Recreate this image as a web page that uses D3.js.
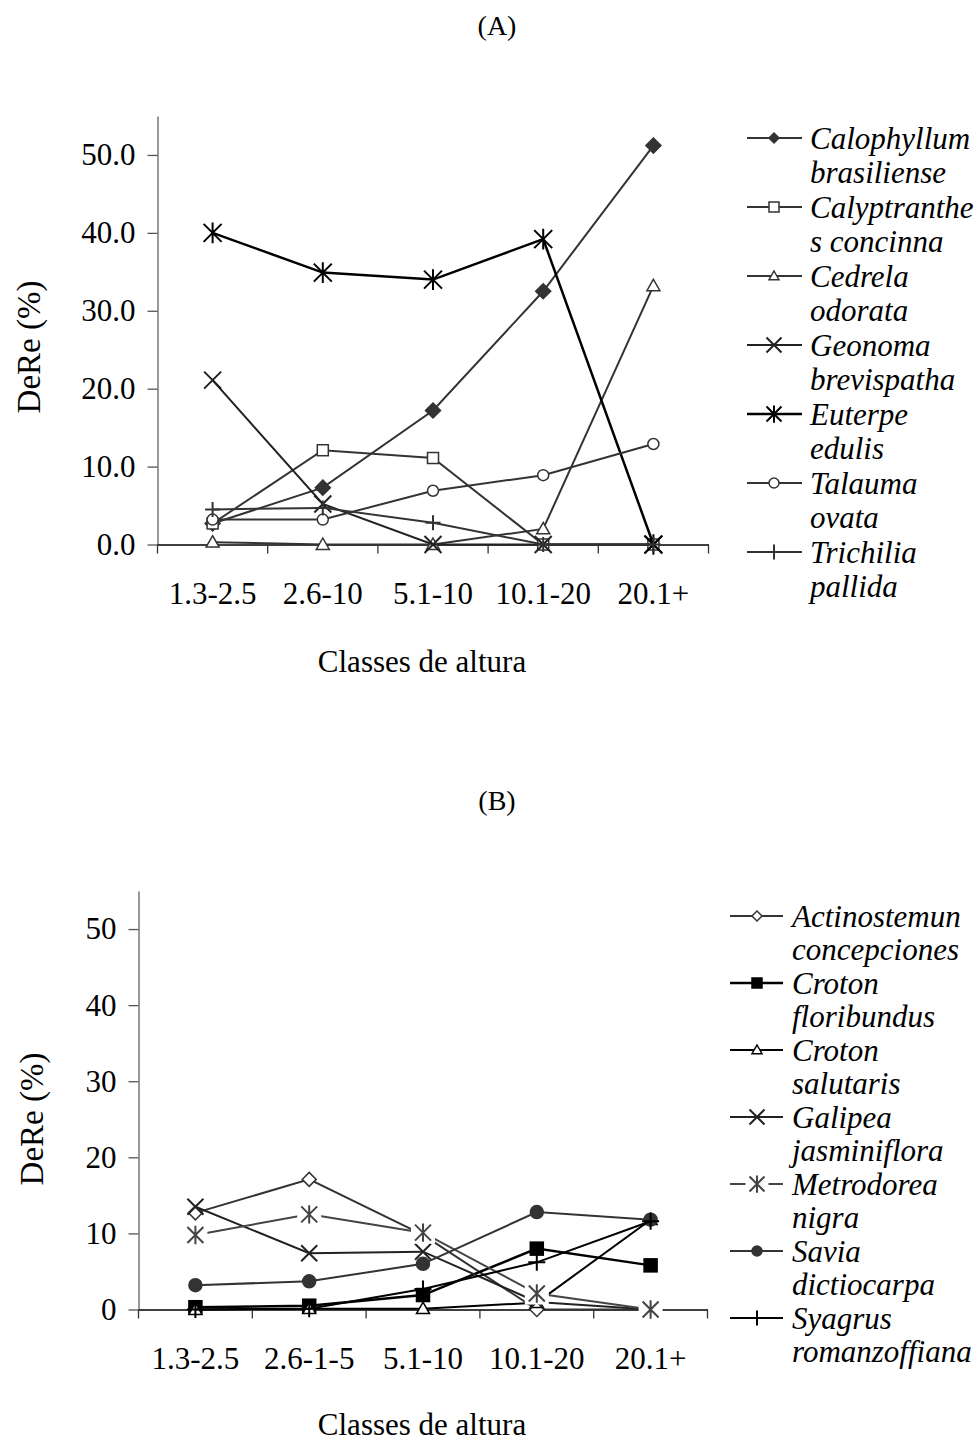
<!DOCTYPE html>
<html>
<head>
<meta charset="utf-8">
<script src="https://cdn.jsdelivr.net/npm/d3@7"></script>
<style>
  body { margin: 0; background: #fff; }
  text { font-family: "Liberation Serif", "Times New Roman", serif; fill: #000; }
</style>
</head>
<body>
<svg id="chart" width="979" height="1446"></svg>
<script>
// panel A
const classesA = ["1.3-2.5", "2.6-10", "5.1-10", "10.1-20", "20.1+"];
const calophyllum = [2.7, 7.3, 17.2, 32.5, 51.2];
const calyptranthes = [2.7, 12.1, 11.1, 0, 0];
const cedrela = [0.3, 0, 0, 2.0, 33.2];
const geonoma = [21.1, 5.2, 0, 0, 0];
const euterpe = [40.0, 34.9, 34.0, 39.2, 0];
const talauma = [3.2, 3.2, 6.9, 8.9, 12.9];
const trichilia = [4.5, 4.7, 2.8, 0, 0];
const yTicksA = [0, 10, 20, 30, 40, 50];

// panel B
const classesB = ["1.3-2.5", "2.6-1-5", "5.1-10", "10.1-20", "20.1+"];
const actinostemun = [12.7, 17.1, 9.8, 0, 0];
const crotonFlori = [0.3, 0.5, 1.9, 8.0, 5.8];
const crotonSalut = [0, 0.1, 0.1, 0.9, 11.8];
const galipea = [13.5, 7.4, 7.6, 1.0, 0];
const metrodorea = [9.8, 12.5, 10.1, 2.1, 0];
const savia = [3.2, 3.7, 6.0, 12.8, 11.8];
const syagrus = [0, 0.1, 2.7, 6.2, 11.6];
const yTicksB = [0, 10, 20, 30, 40, 50];

const seriesA = [
  { name: ["Calophyllum", "brasiliense"], values: calophyllum, marker: "diamond", fill: "#333", color: "#333", width: 2, size: 7.5 },
  { name: ["Calyptranthe", "s concinna"], values: calyptranthes, marker: "square", fill: "#fff", color: "#333", width: 2, size: 5.5 },
  { name: ["Cedrela", "odorata"], values: cedrela, marker: "triangle", fill: "#fff", color: "#333", width: 2, size: 6.5 },
  { name: ["Geonoma", "brevispatha"], values: geonoma, marker: "x", fill: "none", color: "#222", width: 2, size: 8.5 },
  { name: ["Euterpe", "edulis"], values: euterpe, marker: "asterisk", fill: "none", color: "#000", width: 2.5, size: 9 },
  { name: ["Talauma", "ovata"], values: talauma, marker: "circle", fill: "#fff", color: "#333", width: 2, size: 5.5 },
  { name: ["Trichilia", "pallida"], values: trichilia, marker: "plus", fill: "none", color: "#333", width: 2, size: 7.5 }
];

const seriesB = [
  { name: ["Actinostemun", "concepciones"], values: actinostemun, marker: "diamond", fill: "#fff", color: "#333", width: 2, size: 7 },
  { name: ["Croton", "floribundus"], values: crotonFlori, marker: "square", fill: "#000", color: "#000", width: 2.5, size: 6.5 },
  { name: ["Croton", "salutaris"], values: crotonSalut, marker: "triangle", fill: "#fff", color: "#000", width: 2, size: 6.5 },
  { name: ["Galipea", "jasminiflora"], values: galipea, marker: "x", fill: "none", color: "#222", width: 2, size: 8 },
  { name: ["Metrodorea", "nigra"], values: metrodorea, marker: "asterisk", fill: "none", color: "#444", width: 2, size: 8, halo: true },
  { name: ["Savia", "dictiocarpa"], values: savia, marker: "circle", fill: "#333", color: "#333", width: 2, size: 6.5 },
  { name: ["Syagrus", "romanzoffiana"], values: syagrus, marker: "plus", fill: "none", color: "#000", width: 2, size: 8.5 }
];

const svg = d3.select("#chart");

function drawMarker(g, s, x, y) {
  const r = s.size;
  const m = g.append("g").attr("transform", `translate(${x},${y})`);
  if (s.halo) {
    m.append("rect").attr("x", -r - 4).attr("y", -r - 3).attr("width", 2 * r + 8).attr("height", 2 * r + 6).attr("fill", "#fff");
  }
  const stroke = s.color;
  if (s.marker === "diamond") {
    m.append("path").attr("d", `M0,${-r}L${r},0L0,${r}L${-r},0Z`)
      .attr("fill", s.fill).attr("stroke", stroke).attr("stroke-width", 1.5);
  } else if (s.marker === "square") {
    m.append("rect").attr("x", -r).attr("y", -r).attr("width", 2 * r).attr("height", 2 * r)
      .attr("fill", s.fill).attr("stroke", stroke).attr("stroke-width", 1.5);
  } else if (s.marker === "triangle") {
    m.append("path").attr("d", `M0,${-r}L${r},${r * 0.75}L${-r},${r * 0.75}Z`)
      .attr("fill", s.fill).attr("stroke", stroke).attr("stroke-width", 1.5);
  } else if (s.marker === "circle") {
    m.append("circle").attr("r", r)
      .attr("fill", s.fill).attr("stroke", stroke).attr("stroke-width", 1.5);
  } else {
    let d = "";
    if (s.marker === "x" || s.marker === "asterisk") d += `M${-r},${-r}L${r},${r}M${-r},${r}L${r},${-r}`;
    if (s.marker === "asterisk") d += `M0,${-r * 1.15}L0,${r * 1.15}`;
    if (s.marker === "plus") d += `M${-r},0L${r},0M0,${-r}L0,${r}`;
    m.append("path").attr("d", d).attr("fill", "none").attr("stroke", stroke).attr("stroke-width", 2);
  }
}

function panel(opts) {
  const { classes, series, yTicks, fmt, left, right, top, bottom, legend } = opts;
  const x = d3.scaleBand().domain(classes).range([left, right]);
  const y = d3.scaleLinear().domain([0, 55]).range([bottom, top]);
  const g = svg.append("g");

  // y axis
  const yAxis = g.append("g")
    .attr("transform", `translate(${left},0)`)
    .call(d3.axisLeft(y).tickValues(yTicks).tickFormat(fmt).tickSize(10).tickPadding(12).tickSizeOuter(0));
  yAxis.select(".domain").attr("stroke", "#777").attr("stroke-width", 1.5);
  yAxis.selectAll(".tick line").attr("stroke", "#555").attr("stroke-width", 1.3);
  yAxis.selectAll(".tick text").attr("font-size", 31).attr("fill", "#000")
    .style("font-family", '"Liberation Serif", serif');

  // x axis: labels at band centers, ticks at band boundaries
  const xAxis = g.append("g")
    .attr("transform", `translate(0,${bottom})`)
    .call(d3.axisBottom(x).tickSize(0).tickPadding(37).tickSizeOuter(0));
  xAxis.select(".domain").attr("stroke", "#000").attr("stroke-width", 1.6);
  xAxis.selectAll(".tick text").attr("font-size", 31).attr("fill", "#000")
    .style("font-family", '"Liberation Serif", serif');
  const bounds = classes.map(c => x(c)).concat([x(classes[classes.length - 1]) + x.bandwidth()]);
  xAxis.selectAll(".bound").data(bounds).join("line")
    .attr("class", "bound")
    .attr("x1", d => d).attr("x2", d => d)
    .attr("y1", 0).attr("y2", 9)
    .attr("stroke", "#333").attr("stroke-width", 1.3);

  // lines
  const line = d3.line()
    .x((d, i) => x(classes[i]) + x.bandwidth() / 2)
    .y(d => y(d));
  series.forEach(s => {
    g.append("path")
      .datum(s.values)
      .attr("d", line)
      .attr("fill", "none")
      .attr("stroke", s.color)
      .attr("stroke-width", s.width);
    s.values.forEach((v, i) => drawMarker(g, s, x(classes[i]) + x.bandwidth() / 2, y(v)));
  });

  // axis titles
  g.append("text")
    .attr("x", opts.xTitleX).attr("y", opts.xTitleY)
    .attr("text-anchor", "middle").attr("font-size", 31)
    .text("Classes de altura");
  g.append("text")
    .attr("transform", `translate(${opts.yTitleX},${opts.yTitleY}) rotate(-90)`)
    .attr("text-anchor", "middle").attr("dy", "0.35em").attr("font-size", 33)
    .text("DeRe (%)");
  g.append("text")
    .attr("x", 497).attr("y", opts.titleY)
    .attr("text-anchor", "middle").attr("dy", "0.35em").attr("font-size", 28)
    .text(opts.title);

  // legend
  const lg = g.append("g");
  series.forEach((s, i) => {
    const cy = legend.top + i * legend.step;
    lg.append("line")
      .attr("x1", legend.x1).attr("x2", legend.x2)
      .attr("y1", cy).attr("y2", cy)
      .attr("stroke", s.color).attr("stroke-width", s.width);
    drawMarker(lg, Object.assign({}, s, { size: s.marker === "x" || s.marker === "asterisk" ? 7.5 : s.marker === "plus" ? 7.5 : 5 }), legend.mx, cy);
    s.name.forEach((t, j) => {
      lg.append("text")
        .attr("x", legend.tx).attr("y", cy + j * legend.step / 2)
        .attr("dy", "0.35em")
        .attr("font-size", 31).attr("font-style", "italic")
        .text(t);
    });
  });
}

panel({
  classes: classesA, series: seriesA, yTicks: yTicksA, fmt: d3.format(".1f"),
  left: 157.5, right: 708.5, top: 116, bottom: 544.5,
  xTitleX: 422, xTitleY: 672, yTitleX: 28, yTitleY: 347, title: "(A)", titleY: 25,
  legend: { top: 138, step: 69, x1: 747, x2: 802, mx: 774, tx: 810 }
});

panel({
  classes: classesB, series: seriesB, yTicks: yTicksB, fmt: d3.format("d"),
  left: 138.5, right: 707.5, top: 891, bottom: 1309.5,
  xTitleX: 422, xTitleY: 1435, yTitleX: 31, yTitleY: 1119, title: "(B)", titleY: 800,
  legend: { top: 916, step: 67, x1: 730, x2: 783, mx: 757, tx: 792 }
});
</script>
</body>
</html>
